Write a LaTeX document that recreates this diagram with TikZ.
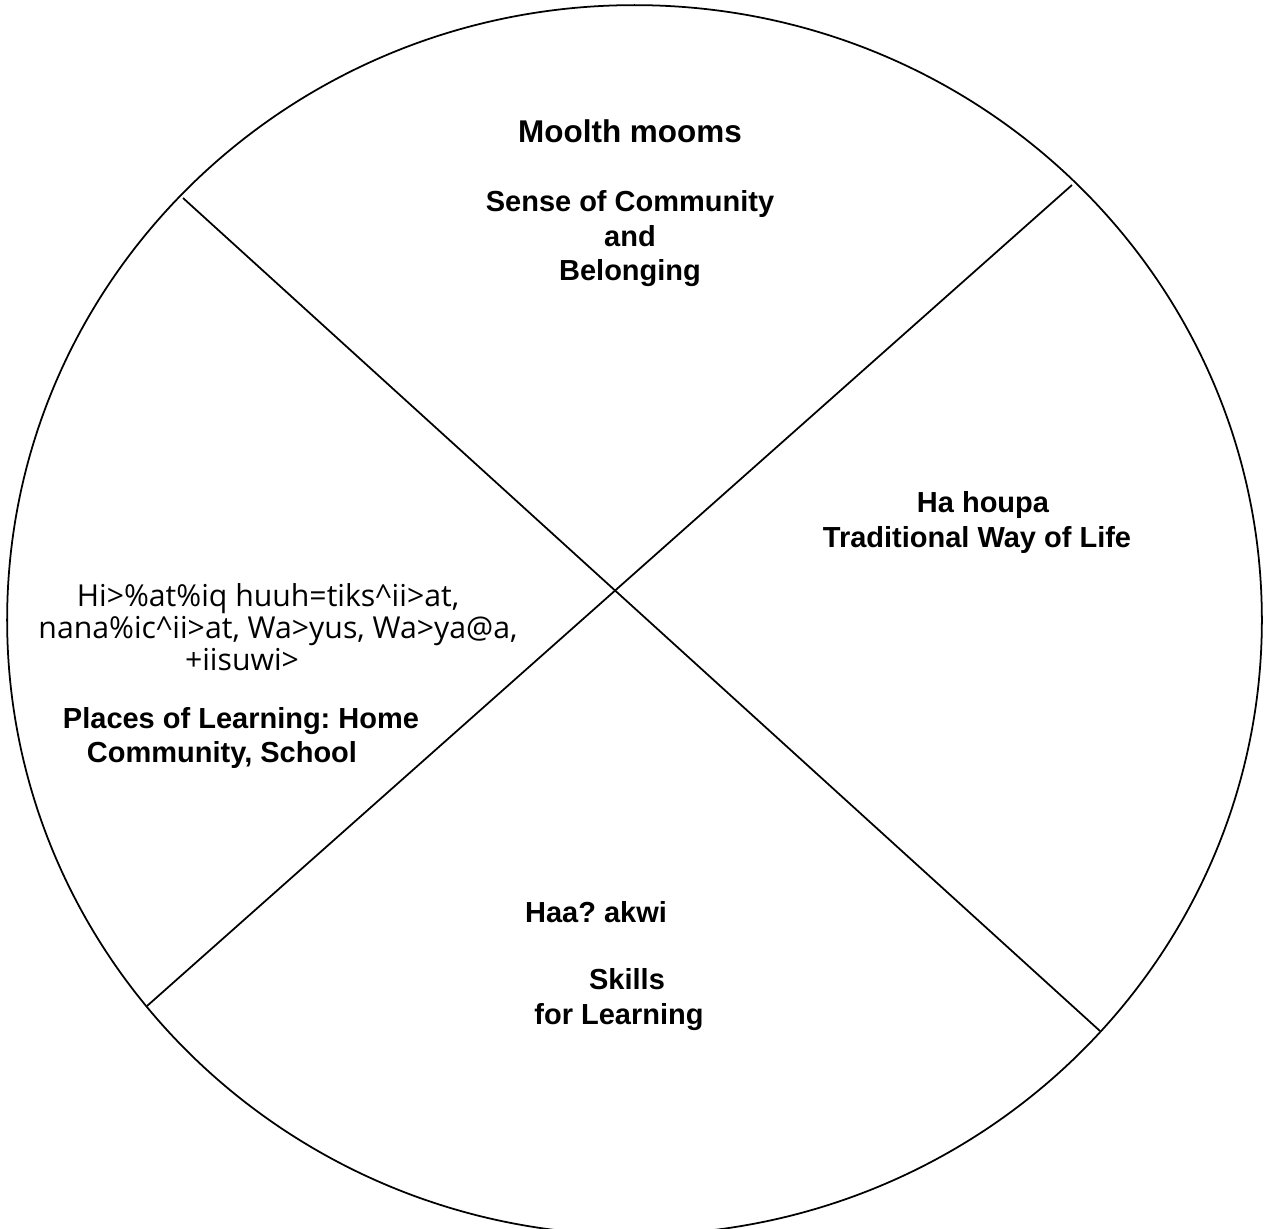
\documentclass[tikz,border=0pt]{standalone}
\usepackage{fontspec}
\setmainfont{Liberation Sans}
\newfontfamily\nuufont{Open Sans}
\usetikzlibrary{positioning,calc}
\frenchspacing
\tikzset{
  wheel/.style={line width=1pt},
  theme/.style={font=\fontsize{16.5}{19.6}\selectfont\bfseries,anchor=base,inner sep=0pt},
  title/.style={theme,font=\fontsize{17.9}{21}\selectfont\bfseries},
  nuu/.style={font=\fontsize{17.2}{20}\selectfont\nuufont,anchor=base,inner sep=0pt}
}
\newcommand*{\caret}{\textasciicircum}

\begin{document}
\begin{tikzpicture}[x=0.02cm,y=-0.02cm]
\useasboundingbox (0,0) rectangle (1265,1228);
\clip (0,0) rectangle (1265,1228);
% Draw the wheel and its two diagonals
\draw[wheel] (634.5,620) coordinate (o) ellipse[x radius=12.55cm,y radius=12.3cm];
\coordinate (nw) at (183,198);
\coordinate (se) at (1100,1031);
\coordinate (ne) at (1072,185);
\coordinate (sw) at (147,1006);
\draw[wheel] (nw) -- (se);
\draw[wheel] (ne) -- (sw);

% Top quarter
\node[title] (moolth) at (630,142) {Moolth mooms};
\node[theme] (sense) at (630,211) {Sense of Community};
\node[theme] (and) at (630,246) {and};
\node[theme] (belong) at (630,280) {Belonging};

% Right quarter
\node[theme] (hahoupa) at (983,512) {Ha houpa};
\node[theme] (tradition) at (977,547) {Traditional Way of Life};

% Left quarter
\node[nuu] (nuuA) at (268,606) {Hi>\%at\%iq huuh=tiks\caret ii>at,};
\node[nuu] (nuuB) at (278,638) {nana\%ic\caret ii>at, Wa>yus, Wa>ya@a,};
\node[nuu] (nuuC) at (242,670) {+iisuwi>};
\node[theme] (places) at (241,728) {Places of Learning: Home};
\node[theme] (commun) at (222,762) {Community, School};

% Bottom quarter
\node[theme] (haa) at (596,922) {Haa? akwi};
\node[theme] (skills) at (627,989) {Skills};
\node[theme] (forlearn) at (619,1024) {for Learning};
\end{tikzpicture}
\end{document}
